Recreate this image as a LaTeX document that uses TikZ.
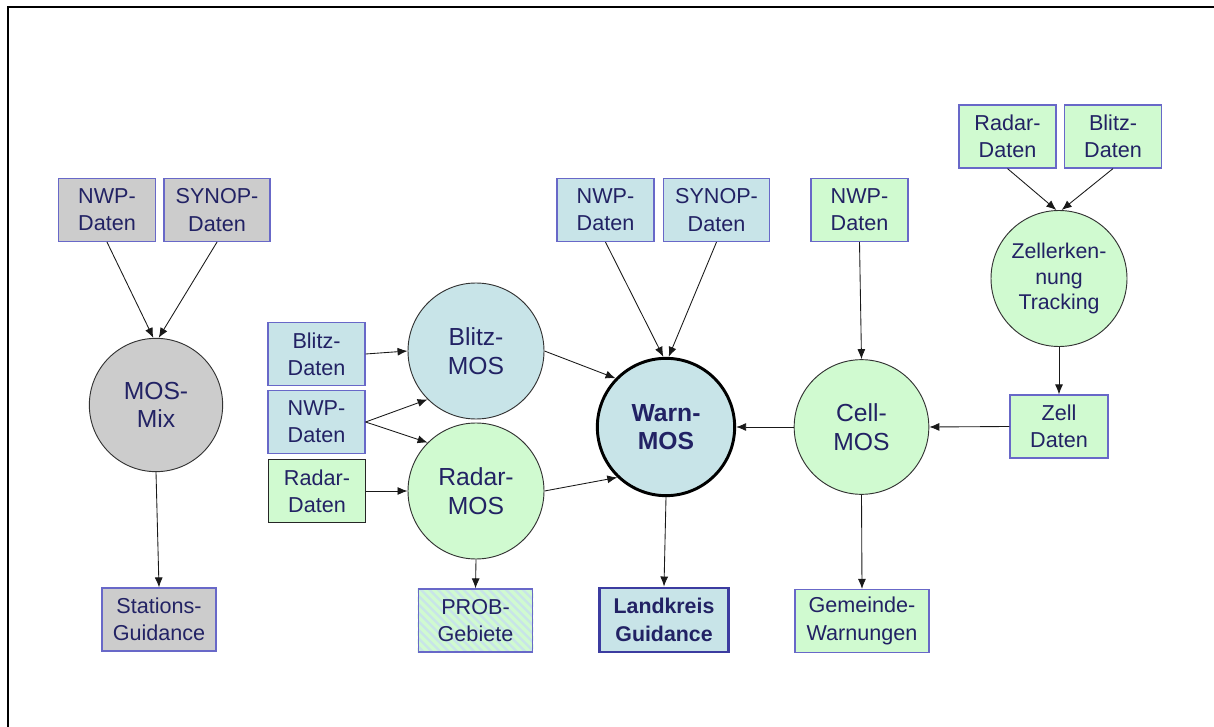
\documentclass[tikz,border=0pt]{standalone}
\usepackage{fontspec}
\setmainfont{Liberation Sans}
\usetikzlibrary{arrows.meta}
\definecolor{gfill}{RGB}{204,204,204}
\definecolor{bfill}{RGB}{200,228,232}
\definecolor{lfill}{RGB}{208,250,208}
\definecolor{bord}{RGB}{104,104,200}
\definecolor{txt}{RGB}{34,34,100}
\definecolor{dblue}{RGB}{60,60,160}
\begin{document}
\begin{tikzpicture}[x=0.75pt,y=-0.75pt,
  box/.style={draw=bord,line width=0.9pt,text=txt,align=center,inner sep=0pt,
    minimum width=72.75pt,minimum height=47.25pt,font=\fontsize{16.2}{20.5}\selectfont},
  circ/.style={circle,draw=black!80,line width=0.7pt,text=txt,align=center,inner sep=0pt,
    minimum size=102pt,font=\fontsize{18.5}{21.5}\selectfont},
  arr/.style={-{Latex[length=7.5pt,width=6pt]},line width=0.65pt,black!90}]
\useasboundingbox (0,0) rectangle (1214,727);
\draw[line width=2.2pt] (8,727) -- (8,7) -- (1214,7);

% MOS-Mix group
\node[box,fill=gfill] (nwpa) at (107,210) {NWP-\\Daten};
\node[box,fill=gfill,minimum width=79.5pt] (synopa) at (217,210) {SYNOP-\\Daten};
\node[circ,fill=gfill,minimum size=100pt] (mix) at (156,405) {MOS-\\Mix};
\node[box,fill=gfill,minimum width=85.5pt] (stat) at (159,619.5) {Stations-\\Guidance};

% left inputs
\node[box,fill=bfill] (blitzd) at (316.5,354) {Blitz-\\Daten};
\node[box,fill=bfill] (nwpb) at (316.5,422) {NWP-\\Daten};
\node[box,fill=lfill,draw=black!85] (radard) at (317,491) {Radar-\\Daten};

\node[circ,fill=bfill] (bmos) at (476,351) {Blitz-\\MOS};
\node[circ,fill=lfill] (rmos) at (476,491) {Radar-\\MOS};

\node[box,fill=bfill,minimum width=86pt] (prob) at (475.5,620.5) {};
\begin{scope}
  \clip (prob.south west) rectangle (prob.north east);
  \foreach \i in {-20,...,40} {
    \draw[lfill,line width=2.4pt] ({418+\i*8.5-70},589) -- ++(70,70);
  }
\end{scope}
\node[box,minimum width=86pt] at (prob) {PROB-\\Gebiete};

% Warn-MOS group
\node[box,fill=bfill] (nwpc) at (605.5,210) {NWP-\\Daten};
\node[box,fill=bfill,minimum width=79pt] (synopc) at (716.5,210) {SYNOP-\\Daten};
\node[circ,fill=bfill,draw=black,line width=2.2pt,minimum size=103pt,font=\fontsize{18.5}{21.5}\selectfont\bfseries] (warn) at (666,427) {Warn-\\MOS};
\node[box,fill=bfill,draw=dblue,line width=2.2pt,minimum width=97pt,minimum height=48pt,font=\fontsize{16}{20.5}\selectfont\bfseries] (land) at (664,620) {Landkreis\\Guidance};

% Cell-MOS group
\node[box,fill=lfill] (nwpd) at (859.5,210) {NWP-\\Daten};
\node[circ,fill=lfill,minimum size=101pt] (cell) at (861.5,427) {Cell-\\MOS};
\node[box,fill=lfill,minimum width=100.5pt] (gem) at (862,621) {Gemeinde-\\Warnungen};

\node[box,fill=lfill] (radare) at (1007.5,136.5) {Radar-\\Daten};
\node[box,fill=lfill] (blitze) at (1113,136.5) {Blitz-\\Daten};
\node[circ,fill=lfill,minimum size=102pt,font=\fontsize{16}{18.8}\selectfont] (zell) at (1059,278.5) {Zellerken-\\nung\\Tracking};
\node[box,fill=lfill,minimum width=73.5pt] (zd) at (1059,426.5) {Zell\\Daten};

% connectors
\draw[arr] (nwpa.south) -- ([xshift=-2pt]mix.north);
\draw[arr] (synopa.south) -- ([xshift=2pt]mix.north);
\draw[arr] (mix.south) -- (stat.north);

\draw[arr] (blitzd.east) -- (bmos.west);
\draw[arr] (nwpb.east) -- (bmos.-135);
\draw[arr] (nwpb.east) -- (rmos.135);
\draw[arr] (radard.east) -- (rmos.west);
\draw[arr] (rmos.south) -- (prob.north);

\draw[arr] (bmos.east) -- (warn.136);
\draw[arr] (rmos.east) -- (warn.-134);
\draw[arr] (nwpc.south) -- ([xshift=-2pt]warn.north);
\draw[arr] (synopc.south) -- ([xshift=2pt]warn.north);
\draw[arr] (warn.south) -- (land.north);

\draw[arr] (cell.west) -- (warn.east);
\draw[arr] (nwpd.south) -- (cell.north);
\draw[arr] (cell.south) -- (gem.north);
\draw[arr] (radare.south) -- ([xshift=-2pt]zell.north);
\draw[arr] (blitze.south) -- ([xshift=2pt]zell.north);
\draw[arr] (zell.south) -- (zd.north);
\draw[arr] (zd.west) -- (cell.east);
\end{tikzpicture}
\end{document}
